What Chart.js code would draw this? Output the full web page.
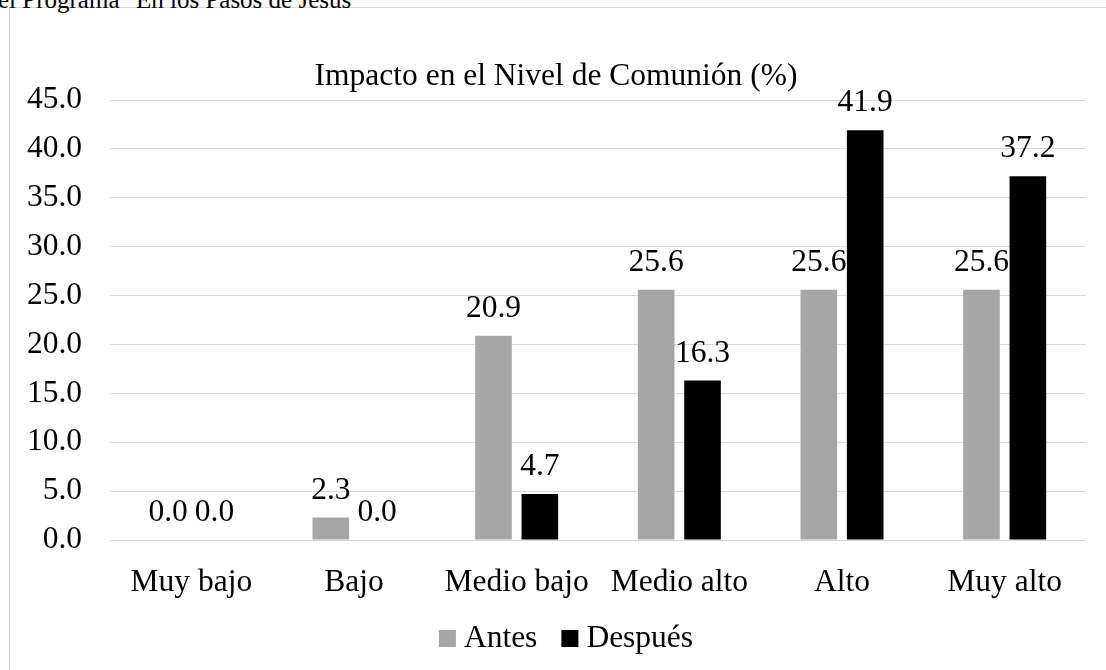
<!DOCTYPE html>
<html>
<head>
<meta charset="utf-8">
<script src="https://cdn.jsdelivr.net/npm/chart.js@4.4.1/dist/chart.umd.min.js"></script>
<style>
  html, body { margin: 0; padding: 0; background: #ffffff; overflow: hidden; }
  #wrap { position: relative; width: 1106px; height: 670px; overflow: hidden; }
  #frame { position: absolute; left: 9px; top: 7px; width: 1200px; height: 800px; border: 1px solid #d9d9d9; box-sizing: border-box; }
  #head { position: absolute; left: -2px; top: -15px; font-family: "Liberation Serif", "Times New Roman", serif; font-size: 25px; line-height: 30px; color: #000; white-space: nowrap; }
  canvas { position: absolute; left: 0; top: 0; }
</style>
</head>
<body>
<div id="wrap">
  <div id="frame"></div>
  <div id="head">el Programa "En los Pasos de Jesús"</div>
  <canvas id="c" width="1106" height="670"></canvas>
</div>
<script>
const chartTitle = 'Impacto en el Nivel de Comunión (%)';
const categories = ['Muy bajo', 'Bajo', 'Medio bajo', 'Medio alto', 'Alto', 'Muy alto'];
const seriesNames = ['Antes', 'Después'];
const antes = [0.0, 2.3, 20.9, 25.6, 25.6, 25.6];
const despues = [0.0, 0.0, 4.7, 16.3, 41.9, 37.2];
const yMin = 0, yMax = 45, yStep = 5;

const FONT = '"Liberation Serif", "Times New Roman", serif';
const FS = 31.5;

const overlay = {
  id: 'overlay',
  afterDatasetsDraw(chart) {
    const ctx = chart.ctx;
    ctx.save();
    ctx.font = FS + 'px ' + FONT;
    ctx.fillStyle = '#000';
    chart.data.datasets.forEach((ds, di) => {
      const meta = chart.getDatasetMeta(di);
      meta.data.forEach((bar, i) => {
        ctx.textAlign = 'center';
        ctx.textBaseline = 'alphabetic';
        ctx.fillText(ds.data[i].toFixed(1), bar.x, bar.y - 19);
      });
    });
    ctx.textAlign = 'center';
    ctx.textBaseline = 'alphabetic';
    ctx.fillText(chartTitle, 556, 85);
    const items = chart.data.datasets.map(d => ({ label: d.label, color: d.backgroundColor }));
    const box = 17, gapBoxText = 8, gapItems = 24;
    let widths = items.map(it => box + gapBoxText + ctx.measureText(it.label).width);
    let total = widths.reduce((a, b) => a + b, 0) + gapItems * (items.length - 1);
    let x = 566 - total / 2;
    const baseY = 647;
    items.forEach((it, k) => {
      ctx.fillStyle = it.color;
      ctx.fillRect(x, baseY - box, box, box);
      ctx.fillStyle = '#000';
      ctx.textAlign = 'left';
      ctx.fillText(it.label, x + box + gapBoxText, baseY);
      x += widths[k] + gapItems;
    });
    ctx.restore();
  }
};

new Chart(document.getElementById('c'), {
  type: 'bar',
  data: {
    labels: categories,
    datasets: [
      { label: seriesNames[0], data: antes, backgroundColor: '#a6a6a6', categoryPercentage: 0.57, barPercentage: 0.79 },
      { label: seriesNames[1], data: despues, backgroundColor: '#000000', categoryPercentage: 0.57, barPercentage: 0.79 }
    ]
  },
  options: {
    responsive: false,
    animation: false,
    layout: { padding: { left: 0, top: 100, right: 20, bottom: 40 } },
    plugins: { legend: { display: false }, tooltip: { enabled: false }, title: { display: false } },
    scales: {
      x: {
        grid: { display: false },
        border: { display: false },
        ticks: { color: '#000', font: { family: FONT, size: FS }, padding: 16, maxRotation: 0, autoSkip: false },
        afterFit(s) { s.height = 90; }
      },
      y: {
        min: yMin, max: yMax,
        grid: { color: '#d9d9d9', lineWidth: 1, drawTicks: false },
        border: { display: false },
        ticks: { stepSize: yStep, color: '#000', font: { family: FONT, size: FS }, padding: 28, callback: v => Number(v).toFixed(1) },
        afterFit(s) { s.width = 110; }
      }
    }
  },
  plugins: [overlay]
});
</script>
</body>
</html>
